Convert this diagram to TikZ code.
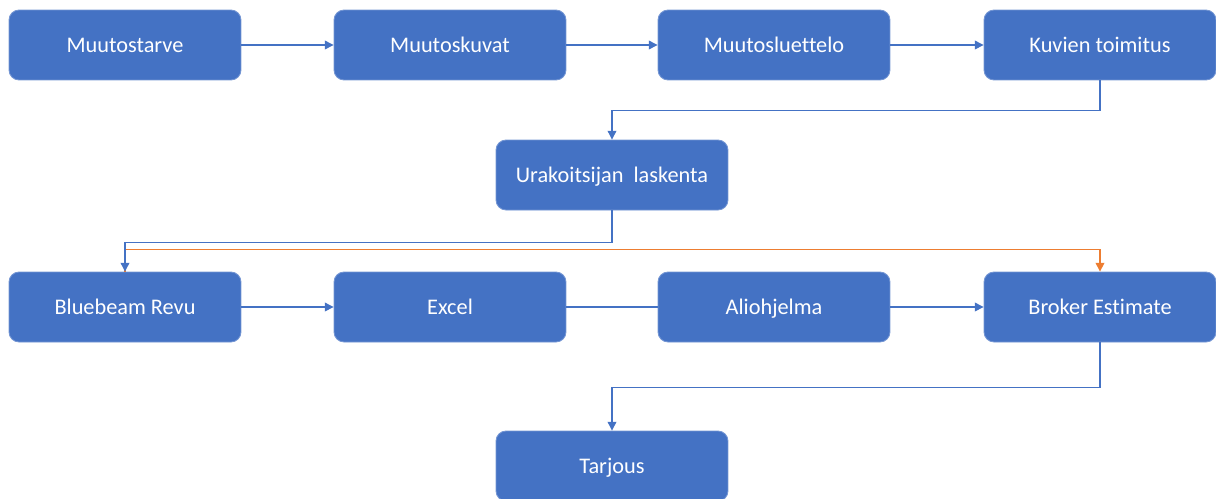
\documentclass[tikz,border=0pt]{standalone}
\usepackage{fontspec}
\setmainfont{Carlito}[Ligatures=NoCommon]
\usetikzlibrary{arrows.meta}
\definecolor{boxblue}{HTML}{4472C4}
\definecolor{linkorange}{HTML}{ED7D31}
\tikzset{
  stepbox/.style={draw=boxblue!75!white, line width=0.5pt, fill=boxblue,
    rounded corners=0.2cm, minimum width=4.64cm, minimum height=1.4cm,
    inner sep=0pt, text height=1em, text depth=0.2em, text=white,
    font=\fontsize{12.7}{15}\selectfont},
  link/.style={draw=boxblue, line width=0.6pt},
  flow/.style={link, -{Triangle[length=5pt,width=5pt]}}
}
\begin{document}
\begin{tikzpicture}[x=0.02cm,y=-0.02cm]
\useasboundingbox (0,0) rectangle (1216,498);
% first row
\node[stepbox] (tarve) at (125,45) {Muutostarve};
\node[stepbox] (kuvat) at (450,45) {Muutoskuvat};
\node[stepbox] (luettelo) at (774,45) {Muutosluettelo};
\node[stepbox] (toimitus) at (1100,45) {Kuvien toimitus};
\node[stepbox] (laskenta) at (612,175) {Urakoitsijan\ \ laskenta};
% second row
\node[stepbox] (revu) at (125,307) {Bluebeam Revu};
\node[stepbox] (excel) at (450,307) {Excel};
\node[stepbox] (aliohjelma) at (774,307) {Aliohjelma};
\node[stepbox] (broker) at (1100,307) {Broker Estimate};
\node[stepbox] (tarjous) at (612,466) {Tarjous};
% connectors
\draw[flow] (tarve) -- (kuvat);
\draw[flow] (kuvat) -- (luettelo);
\draw[flow] (luettelo) -- (toimitus);
\draw[flow] (toimitus.south) -- ++(0,30) -| (laskenta.north);
\draw[flow, color=linkorange, draw=linkorange, line width=0.8pt] (revu.north) -- ++(0,-22) -| (broker.north);
\draw[flow] (laskenta.south) -- ++(0,32) -| (revu.north);
\draw[flow] (revu) -- (excel);
\draw[link] (excel) -- (aliohjelma);
\draw[flow] (aliohjelma) -- (broker);
\draw[flow] (broker.south) -- ++(0,45) -| (tarjous.north);
\end{tikzpicture}
\end{document}
